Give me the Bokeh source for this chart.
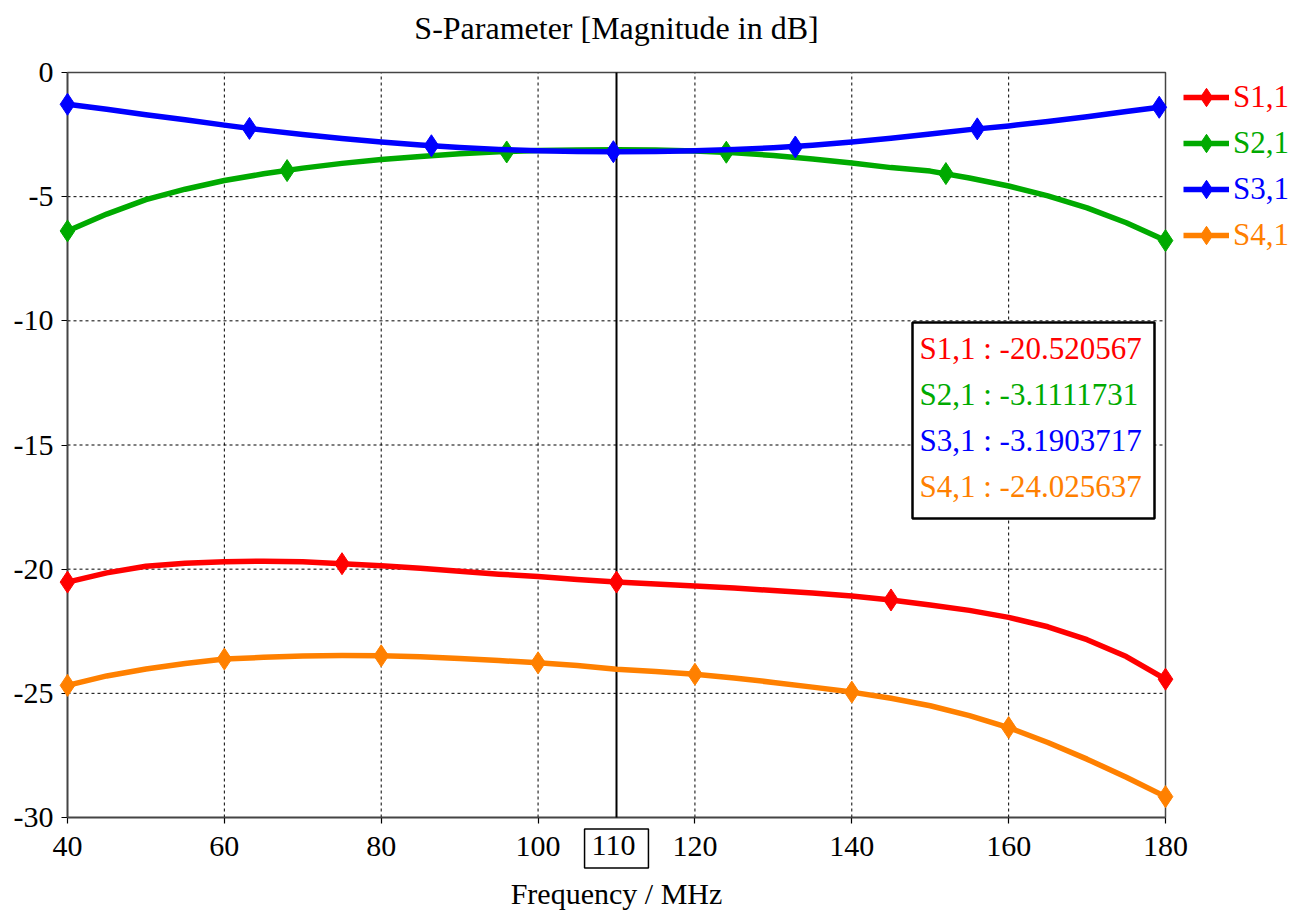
from bokeh.plotting import figure
from bokeh.models import (Range1d, FixedTicker, Label, BoxAnnotation,
                          Legend, LegendItem)
from bokeh.embed import file_html
from bokeh.resources import INLINE

# ---- data (frequency in MHz, magnitude in dB) ----
freq = [40, 45, 50, 55, 60, 65, 70, 75, 80, 85, 90, 95, 100, 105, 110,
        115, 120, 125, 130, 135, 140, 145, 150, 155, 160, 165, 170, 175, 180]

s11 = [-20.52, -20.15, -19.88, -19.76, -19.70, -19.68, -19.70, -19.78, -19.86,
       -19.96, -20.08, -20.20, -20.30, -20.42, -20.520567, -20.60, -20.68,
       -20.76, -20.86, -20.96, -21.08, -21.24, -21.44, -21.66, -21.94, -22.32,
       -22.84, -23.52, -24.43]

s21 = [-6.38, -5.70, -5.12, -4.70, -4.35, -4.08, -3.85, -3.66, -3.50, -3.38,
       -3.27, -3.19, -3.14, -3.12, -3.1111731, -3.12, -3.16, -3.23, -3.34,
       -3.48, -3.64, -3.83, -3.97, -4.25, -4.57, -4.97, -5.45, -6.05, -6.77]

s31 = [-1.28, -1.48, -1.70, -1.90, -2.12, -2.32, -2.50, -2.66, -2.80, -2.92,
       -3.02, -3.10, -3.15, -3.18, -3.1903717, -3.18, -3.15, -3.10, -3.03,
       -2.93, -2.80, -2.65, -2.48, -2.30, -2.15, -1.97, -1.78, -1.57, -1.37]

s41 = [-24.68, -24.30, -24.02, -23.80, -23.62, -23.55, -23.50, -23.48, -23.49,
       -23.53, -23.60, -23.68, -23.77, -23.88, -24.025637, -24.12, -24.23,
       -24.38, -24.56, -24.75, -24.95, -25.20, -25.50, -25.90, -26.38, -26.98,
       -27.65, -28.38, -29.16]

# symbol positions along each trace
s11_mk_f = [40, 75, 110, 145, 180]
s11_mk_v = [-20.52, -19.78, -20.520567, -21.24, -24.43]
s21_mk_f = [40, 68, 96, 124, 152, 180]
s21_mk_v = [-6.38, -3.95, -3.20, -3.21, -4.07, -6.77]
s31_mk_f = [40, 63.2, 86.4, 109.6, 132.8, 156.0, 179.2]
s31_mk_v = [-1.28, -2.25, -2.95, -3.19, -3.00, -2.27, -1.40]
s41_mk_f = [40, 60, 80, 100, 120, 140, 160, 180]
s41_mk_v = [-24.68, -23.62, -23.49, -23.77, -24.23, -24.95, -26.38, -29.16]

names = ["S1,1", "S2,1", "S3,1", "S4,1"]
colors = ["#ff0000", "#00aa00", "#0000ff", "#ff8000"]

x_ticks = [40, 60, 80, 100, 120, 140, 160, 180]
y_ticks = [0, -5, -10, -15, -20, -25, -30]
marker_freq = 110

FONT = "Liberation Serif"

# ---- page geometry (pixels) ----
W, H = 1295, 910
LEFT, RIGHT, TOP, BOTTOM = 67, 1165, 72, 817
x_lo, x_hi = min(x_ticks), max(x_ticks)
y_lo, y_hi = min(y_ticks), max(y_ticks)
sx = (RIGHT - LEFT) / (x_hi - x_lo)
sy = (BOTTOM - TOP) / (y_hi - y_lo)


def dx(px):
    return x_lo + (px - LEFT) / sx


def dy(py):
    return y_hi - (py - TOP) / sy


# the frame fills the whole page; the plotting box is drawn inside it
p = figure(width=W, height=H, output_backend="svg", toolbar_location=None,
           x_range=Range1d(dx(0), dx(W)), y_range=Range1d(dy(H), dy(0)),
           min_border=0, title=None)
p.outline_line_color = None
p.background_fill_color = "white"
p.border_fill_color = "white"
p.xgrid.visible = False
p.ygrid.visible = False

xa, ya = p.xaxis[0], p.yaxis[0]
xa.fixed_location = y_lo
xa.bounds = (x_lo, x_hi)
ya.fixed_location = x_lo
ya.bounds = (y_lo, y_hi)
for ax in (xa, ya):
    ax.level = "underlay"
    ax.axis_line_color = "black"
    ax.axis_line_width = 1.5
    ax.major_tick_line_color = "black"
    ax.major_tick_line_width = 1.2
    ax.major_tick_out = 6
    ax.major_tick_in = 0
    ax.minor_tick_line_color = None
    ax.major_label_text_font = FONT
    ax.major_label_text_font_size = "30px"
    ax.major_label_text_color = "black"
xa.major_label_standoff = 13
ya.major_label_standoff = 8
xa.ticker = FixedTicker(ticks=x_ticks)
ya.ticker = FixedTicker(ticks=y_ticks)
xa.major_label_overrides = {t: str(t) for t in x_ticks}
ya.major_label_overrides = {t: str(t) for t in y_ticks}
xa.axis_label = "Frequency / MHz"
xa.axis_label_text_font = FONT
xa.axis_label_text_font_size = "30px"
xa.axis_label_text_font_style = "normal"
xa.axis_label_text_color = "black"
xa.axis_label_standoff = 18

# dashed grid
p.segment(x0=x_ticks, y0=[y_lo] * len(x_ticks), x1=x_ticks, y1=[y_hi] * len(x_ticks),
          line_color="black", line_dash="3 3", line_width=1, level="underlay")
p.segment(x0=[x_lo] * len(y_ticks), y0=y_ticks, x1=[x_hi] * len(y_ticks), y1=y_ticks,
          line_color="black", line_dash="3 3", line_width=1, level="underlay")

# plotting box outline
p.add_layout(BoxAnnotation(left=x_lo, right=x_hi, bottom=y_lo, top=y_hi,
                           fill_alpha=0, line_color="#444444", line_alpha=1,
                           line_width=1.5, level="underlay"))

# marker line at the readout frequency
p.segment(x0=[marker_freq], y0=[y_lo], x1=[marker_freq], y1=[y_hi],
          line_color="black", line_width=2)

series = [(s11, s11_mk_f, s11_mk_v), (s21, s21_mk_f, s21_mk_v),
          (s31, s31_mk_f, s31_mk_v), (s41, s41_mk_f, s41_mk_v)]

renderers = []
for (vals, mf, mv), col in zip(series, colors):
    lr = p.line(freq, vals, line_color=col, line_width=5.5, line_join="round")
    sr = p.scatter(mf, mv, marker="diamond", size=22, color=col)
    renderers.append((lr, sr))

# title
p.add_layout(Label(x=(x_lo + x_hi) / 2, y=dy(27), text="S-Parameter [Magnitude in dB]",
                   text_font=FONT, text_font_size="32px", text_color="black",
                   text_align="center", text_baseline="middle"))

# one legend entry per trace, each label in the trace colour
ROW_H = 46
for i, ((lr, sr), name, col) in enumerate(zip(renderers, names, colors)):
    row_center = 97 + ROW_H * i
    lg = Legend(items=[LegendItem(label=name, renderers=[lr, sr])],
                location=(1183, H - (row_center + ROW_H / 2)),
                orientation="vertical",
                label_text_font=FONT, label_text_font_size="31px",
                label_text_color=col, glyph_width=46, glyph_height=ROW_H,
                label_height=ROW_H, label_standoff=4, padding=0, margin=0,
                spacing=0, border_line_alpha=0, background_fill_alpha=0)
    p.add_layout(lg)

# readout box at the marker frequency
p.add_layout(BoxAnnotation(left=dx(912), right=dx(1154), top=dy(322), bottom=dy(518),
                           fill_color="white", fill_alpha=1.0,
                           line_color="black", line_alpha=1.0, line_width=2.5,
                           level="overlay"))

idx = freq.index(marker_freq)
for i, (vals, name, col) in enumerate(zip([s11, s21, s31, s41], names, colors)):
    txt = f"{name} : {format(vals[idx], '.8g')}"
    p.add_layout(Label(x=dx(919), y=dy(348 + 46 * i), text=txt, text_font=FONT,
                       text_font_size="31px", text_color=col,
                       text_baseline="middle", text_align="left", level="overlay"))

# boxed frequency label under the marker line
p.add_layout(Label(x=marker_freq, y=dy(848), text=str(marker_freq),
                   text_font=FONT, text_font_size="30px", text_color="black",
                   text_align="center", text_baseline="middle",
                   border_line_color="black", border_line_width=1.5,
                   background_fill_color="white", padding=(7, 13, 7, 13)))

open("out.html", "w").write(file_html(p, INLINE))
